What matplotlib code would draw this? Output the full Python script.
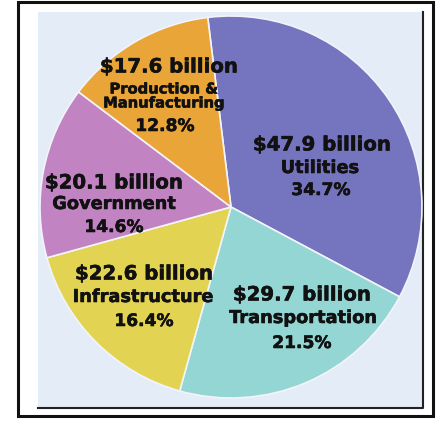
import numpy as np
import matplotlib
matplotlib.use("Agg")
import matplotlib.pyplot as plt
import matplotlib.patheffects as pe
from matplotlib.patches import Rectangle
from matplotlib.lines import Line2D

# data (billions of dollars), clockwise from the top
sectors = ['Utilities', 'Transportation', 'Infrastructure', 'Government',
           'Production &\nManufacturing']
billions = [47.9, 29.7, 22.6, 20.1, 17.6]
shares = ['34.7%', '21.5%', '16.4%', '14.6%', '12.8%']
colors = ['#7574BF', '#93D6D4', '#E2D452', '#C283C3', '#E9A537']

W, H = 446, 421
fig = plt.figure(figsize=(W / 100, H / 100), dpi=100)

def px(x, y):
    return x / W, 1 - y / H

# outer frame
fig.patches.append(Rectangle(px(18, 416), 415 / W, 414 / H, transform=fig.transFigure,
                             facecolor='white', edgecolor='#111111', lw=2.2, zorder=-3))
# light blue panel with dark right/bottom edge
fig.patches.append(Rectangle(px(38, 408), 385 / W, 396 / H, transform=fig.transFigure,
                             facecolor='#E4ECF8', edgecolor='none', zorder=-2))
fig.lines.append(Line2D([px(38, 408)[0], px(423, 408)[0], px(423, 12)[0]],
                        [px(38, 408)[1], px(423, 408)[1], px(423, 12)[1]],
                        transform=fig.transFigure, color='#222222', lw=1.5, zorder=-1))

cx, cy, r = 231, 207, 191
ax = fig.add_axes([(cx - r) / W, (H - cy - r) / H, 2 * r / W, 2 * r / H])
ax.pie(billions, colors=colors, startangle=97, counterclock=False,
       wedgeprops=dict(edgecolor='#F2F4FA', linewidth=1.2))
ax.set_xlim(-1, 1)
ax.set_ylim(-1, 1)
ax.axis('off')

# label layout: (x, y) pixel centres of the three lines
label_pos = [
    [(322, 145), (320, 168), (321, 190)],
    [(302, 295), (303, 318), (302, 343)],
    [(144, 274), (143, 297), (144, 321)],
    [(114, 183), (114, 204), (114, 227)],
    [(169, 67), (164, 96), (165, 126)],
]

def to_data(p):
    return (p[0] - cx) / r, (cy - p[1]) / r

heavy = [pe.withStroke(linewidth=0.4, foreground='#111111')]
style = dict(ha='center', va='center', fontweight='bold', color='#111111',
             path_effects=heavy)

for name, val, pct, pos in zip(sectors, billions, shares, label_pos):
    ax.text(*to_data(pos[0]), f'${val} billion', fontsize=14.2, **style)
    small = '\n' in name
    ax.text(*to_data(pos[1]), name, fontsize=10.6 if small else 12.8,
            linespacing=0.92, **style)
    ax.text(*to_data(pos[2]), pct, fontsize=12.3, **style)

fig.savefig('out.png', dpi=100)
